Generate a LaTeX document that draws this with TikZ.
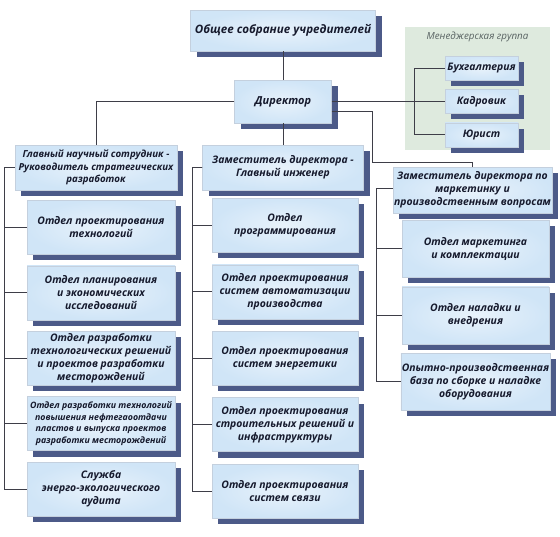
\documentclass[tikz,border=0pt]{standalone}
\usepackage{fontspec}
\setmainfont{Open Sans}
\usepackage{tikz}
\usetikzlibrary{shapes,positioning,shadows}

\definecolor{cloudBlue}{RGB}{208,229,247}
\definecolor{cloudLight}{RGB}{232,242,251}
\definecolor{boxEdge}{RGB}{196,208,222}
\definecolor{shadowBlue}{RGB}{76,90,136}
\definecolor{textNavy}{RGB}{22,26,45}
\definecolor{lineGray}{RGB}{62,62,72}
\definecolor{groupGreen}{RGB}{222,234,222}
\definecolor{labelGray}{RGB}{88,98,98}

\begin{document}
\begin{tikzpicture}[
	x=1pt, y=1pt,
	node distance=11pt and 11pt,
	font=\bfseries\itshape\fontsize{10.4}{13}\selectfont
	]
\tikzset{
	base/.style = { rectangle, align=center, draw=boxEdge, line width=0.4pt, inner color=cloudLight, outer color=cloudBlue, text=textNavy, inner sep=1pt, drop shadow={shadow xshift=6pt, shadow yshift=-6pt, fill=shadowBlue, opacity=1} },
	head/.style = { base, minimum height=45pt },
	deptLeft/.style = { base, minimum width=148pt, minimum height=54pt },
	deptMid/.style = { base, minimum width=146pt, minimum height=54pt },
	deptRight/.style = { base, minimum width=147pt, minimum height=57pt },
	staff/.style = { base, minimum width=73pt, minimum height=24pt },
	group/.style = { rectangle, fill=groupGreen, minimum width=145pt, minimum height=123pt, inner sep=0pt },
	link/.style = { draw=lineGray, line width=0.9pt }
}
\useasboundingbox (0,0) rectangle (560,-536);

	% top
	\node (founders) [base, minimum width=185pt, minimum height=41pt, font=\bfseries\itshape\fontsize{11.6}{14}\selectfont] at (283,-30.5) {Общее собрание учредителей};
	\node (director) [base, minimum width=97pt, minimum height=43pt, font=\bfseries\itshape\fontsize{11}{14}\selectfont] at (283,-101.5) {Директор};

	% management group
	\node (mgmtGroup) [group] at (477.5,-88.5) {};
	\node (groupLabel) [below=5pt of mgmtGroup.north, inner sep=0pt, font=\itshape\fontsize{9.8}{11}\selectfont, text=labelGray] {Менеджерская группа};
	\node (accounting) [staff] at (481.5,-68) {Бухгалтерия};
	\node (personnel) [staff, below=9pt of accounting] {Кадровик};
	\node (lawyer) [staff, below=9pt of personnel] {Юрист};

	% left column
	\node (chiefSci) [head, minimum width=162pt, font=\bfseries\itshape\fontsize{9.7}{12.6}\selectfont] at (96,-167.5) {Главный научный сотрудник -\\Руководитель стратегических\\разработок};
	\node (deptTech) [deptLeft, below right=10pt and 12pt of chiefSci.south west] {Отдел проектирования\\технологий};
	\node (deptPlan) [deptLeft, below=of deptTech] {Отдел планирования\\и экономических\\исследований};
	\node (deptSolutions) [deptLeft, below=of deptPlan] {Отдел разработки\\технологических решений\\и проектов разработки\\месторождений};
	\node (deptRecovery) [deptLeft, below=of deptSolutions, font=\bfseries\itshape\fontsize{8.8}{11.6}\selectfont] {Отдел разработки технологий\\повышения нефтегаоотдачи\\пластов и выпуска проектов\\разработки месторождений};
	\node (deptAudit) [deptLeft, below=of deptRecovery] {Служба\\энерго-экологического\\аудита};

	% middle column
	\node (chiefEng) [head, minimum width=161pt] at (283,-167.5) {Заместитель директора -\\Главный инженер};
	\node (deptSoft) [deptMid, below right=8pt and 9.5pt of chiefEng.south west] {Отдел\\программирования};
	\node (deptAuto) [deptMid, below=12pt of deptSoft] {Отдел проектирования\\систем автоматизации\\производства};
	\node (deptPower) [deptMid, below=12pt of deptAuto] {Отдел проектирования\\систем энергетики};
	\node (deptBuild) [deptMid, below=12pt of deptPower] {Отдел проектирования\\строительных решений и\\инфраструктуры};
	\node (deptComm) [deptMid, below=12pt of deptBuild] {Отдел проектирования\\систем связи};

	% right column
	\node (deputyMkt) [base, minimum width=159pt, minimum height=46pt] at (472.5,-190) {Заместитель директора по\\маркетинку и\\производственным вопросам};
	\node (deptMarket) [deptRight, below right=7pt and 9pt of deputyMkt.south west] {Отдел маркетинга\\и комплектации};
	\node (deptSetup) [deptRight, below=9pt of deptMarket] {Отдел наладки и\\внедрения};
	\node (deptPilot) [deptRight, below=9pt of deptSetup] {Опытно-производственная\\база по сборке и наладке\\оборудования};

	% paths
	\draw [link] (founders.south) -- (director.north);
	\draw [link] (director.west) -| (chiefSci.north);
	\draw [link] (director.south) -- (chiefEng.north);
	\draw [link] ([yshift=-10pt]director.east) -- ++(41,0) |- ([yshift=4pt]deputyMkt.north) -- (deputyMkt.north);

	\draw [link] (director.east) -- ++(83,0) coordinate (mgmtFork);
	\foreach \n in {accounting,personnel,lawyer}
		\draw [link] (mgmtFork) |- (\n.west);

	\foreach \n in {deptTech,deptPlan,deptSolutions,deptRecovery,deptAudit}
		\draw [link] (chiefSci.west) -- ++(-10,0) |- (\n.west);
	\foreach \n in {deptSoft,deptAuto,deptPower,deptBuild,deptComm}
		\draw [link] (chiefEng.west) -- ++(-9.5,0) |- (\n.west);
	\foreach \n in {deptMarket,deptSetup,deptPilot}
		\draw [link] ([yshift=2pt]deputyMkt.west) -- ++(-16,0) |- (\n.west);
\end{tikzpicture}
\end{document}
